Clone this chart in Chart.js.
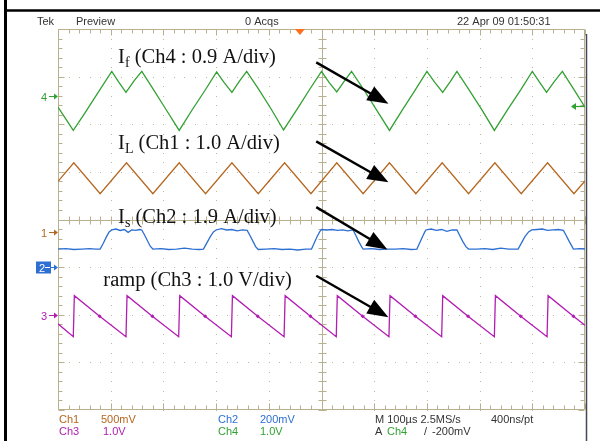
<!DOCTYPE html>
<html><head><meta charset="utf-8">
<script src="https://cdn.jsdelivr.net/npm/chart.js@4.4.0/dist/chart.umd.min.js"></script>
<style>html,body{margin:0;padding:0;background:#fff;}#wrap{width:600px;height:441px;}</style>
</head><body><div id="wrap"><canvas id="c" width="600" height="441"></canvas></div>
<script>
// ---- Data (time in microseconds, amplitude in screen divisions; centre = 0) ----
const ifTimeUs = [0,10,29,50,75,102,115,129,145,159,180,205,230,255,280,301,315,330,344,358,380,405,428,455,478,500,515,529,543,557,580,605,629,655,678,700,715,730,744,757,780,805,828,855,878,900,914,927,942,957,980,1000];
const ifDiv    = [2.36,2.19,1.87,2.22,2.65,3.11,2.89,2.67,2.92,3.11,2.75,2.31,1.87,2.31,2.73,3.10,2.88,2.67,2.90,3.11,2.75,2.31,1.88,2.34,2.74,3.11,2.87,2.68,2.90,3.11,2.73,2.29,1.87,2.33,2.72,3.11,2.88,2.67,2.89,3.11,2.72,2.29,1.87,2.34,2.72,3.11,2.88,2.67,2.90,3.11,2.71,2.36];

const ilTimeUs = [0,30,80,130,180,230,280,330,380,430,480,529,579,629,679,729,779,829,879,929,979,1000];
const ilDiv    = [0.80,1.19,0.54,1.19,0.54,1.19,0.54,1.19,0.54,1.19,0.54,1.19,0.54,1.19,0.54,1.19,0.54,1.19,0.54,1.19,0.54,0.81];

const isTimeUs = [0,15,30,45,60,72,80,86,92,97,102,110,118,126,133,140,148,155,159,164,170,175,180,
  195,210,225,240,255,268,276,282,289,295,300,310,320,330,340,350,359,364,370,375,380,
  395,410,425,440,455,470,481,486,492,497,500,510,520,530,540,550,560,565,571,576,579,
  595,610,625,640,655,670,681,686,692,696,698,708,718,728,738,748,757,762,768,774,779,
  795,810,825,840,855,866,873,879,886,893,899,909,919,929,939,949,959,964,970,975,978,990,1000];
const isDiv = [-0.62,-0.61,-0.63,-0.62,-0.61,-0.62,-0.62,-0.50,-0.36,-0.26,-0.22,-0.20,-0.23,-0.21,-0.27,-0.22,-0.23,-0.21,-0.22,-0.32,-0.45,-0.56,-0.62,
  -0.61,-0.63,-0.62,-0.60,-0.62,-0.63,-0.62,-0.50,-0.36,-0.26,-0.22,-0.19,-0.22,-0.21,-0.24,-0.22,-0.23,-0.33,-0.46,-0.57,-0.63,
  -0.62,-0.61,-0.63,-0.62,-0.64,-0.62,-0.62,-0.50,-0.35,-0.25,-0.21,-0.22,-0.21,-0.23,-0.22,-0.24,-0.22,-0.33,-0.47,-0.57,-0.62,
  -0.61,-0.63,-0.62,-0.62,-0.61,-0.63,-0.62,-0.50,-0.35,-0.26,-0.22,-0.20,-0.23,-0.21,-0.25,-0.22,-0.22,-0.33,-0.46,-0.57,-0.62,
  -0.62,-0.61,-0.63,-0.60,-0.62,-0.62,-0.62,-0.50,-0.36,-0.26,-0.22,-0.21,-0.20,-0.23,-0.22,-0.21,-0.23,-0.33,-0.46,-0.56,-0.62,-0.61,-0.62];

const rampTimeUs = [0,29,31,79,129,131,179,229,231,279,329,331,379,429,431,479,528,530,578,628,630,678,728,730,778,828,830,878,928,930,978,1000];
const rampDiv    = [-2.19,-2.46,-1.60,-2.03,-2.46,-1.60,-2.03,-2.46,-1.60,-2.03,-2.46,-1.60,-2.03,-2.46,-1.60,-2.03,-2.46,-1.60,-2.03,-2.46,-1.60,-2.03,-2.46,-1.60,-2.03,-2.46,-1.60,-2.03,-2.46,-1.60,-2.03,-2.22];

const markerLabels = ['4','1','2','3'];
const markerLevels = [2.59,-0.27,-1.0,-2.0];
const triggerLevelDiv = 2.39;
const triggerTimeUs = 459;

const channelNames  = ['Ch1','Ch2','Ch3','Ch4'];
const channelScales = ['500mV','200mV','1.0V','1.0V'];

const annoText  = [['I','f',' (Ch4 : 0.9 A/div)'],['I','L',' (Ch1 : 1.0 A/div)'],['I','s',' (Ch2 : 1.9 A/div)'],['ramp (Ch3 : 1.0 V/div)','','']];
const annoX     = [114,114,114,86];
const annoY     = [3.28,1.47,-0.07,-1.39];
const arrowFrom = [[490,3.30],[490,1.64],[490,0.26],[490,-1.18]];
const arrowTo   = [[627,2.43],[627,0.78],[625,-0.63],[627,-2.05]];

const pts = (xs, ys) => xs.map((x,i)=>({x, y: ys[i]}));

const GRID = '#b9b08e';
const DOT  = '#bfb79a';
const C1 = '#b5661f', C2 = '#2d6fd2', C3 = '#b21db2', C4 = '#33a033';

const P = v => Math.round(v) + 0.5;

const gridPlugin = {
  id: 'scopeGrid',
  beforeDatasetsDraw(chart) {
    const {ctx, chartArea: a, scales: {x, y}} = chart;
    ctx.save();
    ctx.strokeStyle = GRID; ctx.lineWidth = 1;
    const L = P(a.left), R = P(a.right)-1, T = P(a.top), B = P(a.bottom)-1;
    ctx.beginPath(); ctx.rect(L, T, R-L, B-T); ctx.stroke();
    ctx.fillStyle = DOT;
    for (let k = 1; k < 10; k++) {
      if (k === 5) continue;
      const X = Math.round(x.getPixelForValue(k*100));
      for (let j = 0; j <= 40; j++) { const Y = Math.round(y.getPixelForValue(-4 + j*0.2)); ctx.fillRect(X, Y, 1, 1); }
    }
    for (let k = -3; k <= 3; k++) {
      if (k === 0) continue;
      const Y = Math.round(y.getPixelForValue(k));
      for (let j = 0; j <= 50; j++) { const X = Math.round(x.getPixelForValue(j*20)); ctx.fillRect(X, Y, 1, 1); }
    }
    ctx.beginPath();
    for (let j = 0; j <= 50; j++) {
      const X = P(x.getPixelForValue(j*20));
      const len = (j % 5 === 0) ? 6 : 4;
      ctx.moveTo(X, T); ctx.lineTo(X, T+len);
      ctx.moveTo(X, B); ctx.lineTo(X, B-len);
      const Y0 = P(y.getPixelForValue(0));
      ctx.moveTo(X, Y0-4); ctx.lineTo(X, Y0+4);
    }
    for (let j = 0; j <= 40; j++) {
      const Y = P(y.getPixelForValue(-4 + j*0.2));
      const len = (j % 5 === 0) ? 6 : 4;
      ctx.moveTo(L, Y); ctx.lineTo(L+len, Y);
      ctx.moveTo(R, Y); ctx.lineTo(R-len, Y);
      const X0 = P(x.getPixelForValue(500));
      ctx.moveTo(X0-4, Y); ctx.lineTo(X0+4, Y);
    }
    const X0 = P(x.getPixelForValue(500)), Y0 = P(y.getPixelForValue(0));
    ctx.moveTo(X0, T); ctx.lineTo(X0, B);
    ctx.moveTo(L, Y0); ctx.lineTo(R, Y0);
    ctx.stroke();
    ctx.restore();
  }
};

function arrow(ctx, x1, y1, x2, y2, hl, hw, lw) {
  const ang = Math.atan2(y2-y1, x2-x1);
  const bx = x2 - hl*Math.cos(ang), by = y2 - hl*Math.sin(ang);
  ctx.lineWidth = lw;
  ctx.beginPath(); ctx.moveTo(x1, y1); ctx.lineTo(bx + Math.cos(ang)*2, by + Math.sin(ang)*2); ctx.stroke();
  ctx.beginPath(); ctx.moveTo(x2, y2);
  ctx.lineTo(bx + hw*Math.sin(ang), by - hw*Math.cos(ang));
  ctx.lineTo(bx - hw*Math.sin(ang), by + hw*Math.cos(ang));
  ctx.closePath(); ctx.fill();
}

const textPlugin = {
  id: 'scopeText',
  afterDraw(chart) {
    const {ctx, chartArea: a, scales: {x, y}} = chart;
    ctx.save();
    ctx.strokeStyle = '#000';
    ctx.lineWidth = 2.5; ctx.beginPath(); ctx.moveTo(4, 10.5); ctx.lineTo(600, 10.5); ctx.stroke();
    ctx.lineWidth = 3; ctx.beginPath(); ctx.moveTo(5.5, 0); ctx.lineTo(5.5, 441); ctx.stroke();
    ctx.strokeStyle = '#44475a'; ctx.lineWidth = 1.5;
    ctx.beginPath(); ctx.moveTo(a.right + 1.5, 34); ctx.lineTo(a.right + 1.5, 441); ctx.stroke();

    ctx.font = '11px "Liberation Sans", Arial, sans-serif';
    ctx.fillStyle = '#333'; ctx.textBaseline = 'alphabetic'; ctx.textAlign = 'left';
    ctx.fillText('Tek', 37, 25);
    ctx.fillText('Preview', 76, 25);
    ctx.fillText('0 Acqs', 245, 25);
    ctx.fillText('22 Apr 09 01:50:31', 457, 25);

    const tx = x.getPixelForValue(triggerTimeUs);
    ctx.fillStyle = '#ff6e1f';
    ctx.beginPath(); ctx.moveTo(tx-5, a.top); ctx.lineTo(tx+5, a.top); ctx.lineTo(tx, a.top+6); ctx.closePath(); ctx.fill();

    const row1 = 423, row2 = 434.5;
    const put = (t, px, py, c) => { ctx.fillStyle = c; ctx.fillText(t, px, py); };
    put(channelNames[0], 59, row1, C1); put(channelScales[0], 101, row1, C1);
    put(channelNames[1], 218, row1, C2); put(channelScales[1], 260, row1, C2);
    put('M 100\u00b5s 2.5MS/s', 375, row1, '#333'); put('400ns/pt', 491, row1, '#333');
    put(channelNames[2], 59, row2, C3); put(channelScales[2], 103, row2, C3);
    put(channelNames[3], 218, row2, C4); put(channelScales[3], 260, row2, C4);
    put('A', 375, row2, '#333'); put('Ch4', 387, row2, C4);
    put('/', 424, row2, '#333'); put('-200mV', 432, row2, '#333');

    const mcol = [C4, C1, C2, C3];
    markerLabels.forEach((lab, i) => {
      const Y = Math.round(y.getPixelForValue(markerLevels[i])) + 0.5;
      ctx.fillStyle = mcol[i]; ctx.strokeStyle = mcol[i]; ctx.lineWidth = 1;
      ctx.font = '11px "Liberation Sans", Arial, sans-serif';
      if (lab === '2') {
        ctx.fillRect(36, Y-6, 15, 12);
        ctx.fillStyle = '#fff'; ctx.fillText(lab, 39, Y+4);
        ctx.strokeStyle = '#fff';
        ctx.beginPath(); ctx.moveTo(45, Y); ctx.lineTo(50, Y); ctx.stroke();
        ctx.strokeStyle = C2; ctx.fillStyle = C2;
        ctx.beginPath(); ctx.moveTo(51, Y); ctx.lineTo(57, Y); ctx.stroke();
        ctx.beginPath(); ctx.moveTo(58, Y); ctx.lineTo(54, Y-3); ctx.lineTo(54, Y+3); ctx.closePath(); ctx.fill();
      } else {
        ctx.fillText(lab, 41, Y+4);
        ctx.beginPath(); ctx.moveTo(49, Y); ctx.lineTo(56, Y); ctx.stroke();
        ctx.beginPath(); ctx.moveTo(58, Y); ctx.lineTo(54, Y-3); ctx.lineTo(54, Y+3); ctx.closePath(); ctx.fill();
      }
    });
    const TY = Math.round(y.getPixelForValue(triggerLevelDiv)) + 0.5;
    ctx.strokeStyle = C4; ctx.fillStyle = C4; ctx.lineWidth = 1.2;
    ctx.beginPath(); ctx.moveTo(a.right-1, TY); ctx.lineTo(a.right-10, TY); ctx.stroke();
    ctx.beginPath(); ctx.moveTo(a.right-14, TY); ctx.lineTo(a.right-9, TY-3.5); ctx.lineTo(a.right-9, TY+3.5); ctx.closePath(); ctx.fill();

    ctx.fillStyle = '#111';
    annoText.forEach((parts, i) => {
      let px = x.getPixelForValue(annoX[i]);
      const py = y.getPixelForValue(annoY[i]);
      ctx.font = '20.5px "Liberation Serif", "Times New Roman", serif';
      ctx.fillText(parts[0], px, py); px += ctx.measureText(parts[0]).width;
      if (parts[1]) {
        ctx.font = '14px "Liberation Serif", "Times New Roman", serif';
        ctx.fillText(parts[1], px, py + 4); px += ctx.measureText(parts[1]).width;
      }
      if (parts[2]) {
        ctx.font = '20.5px "Liberation Serif", "Times New Roman", serif';
        ctx.fillText(parts[2], px, py);
      }
    });
    ctx.strokeStyle = '#000'; ctx.fillStyle = '#000';
    arrowFrom.forEach((f, i) => {
      const t = arrowTo[i];
      arrow(ctx, x.getPixelForValue(f[0]), y.getPixelForValue(f[1]), x.getPixelForValue(t[0]), y.getPixelForValue(t[1]), 21, 8, 2.4);
    });
    ctx.restore();
  }
};

const lineDs = (label, data, color, extra) => Object.assign({
  label, data, borderColor: color, backgroundColor: color, borderWidth: 1.3,
  pointRadius: 0, tension: 0, fill: false
}, extra || {});

new Chart(document.getElementById('c'), {
  type: 'line',
  data: {
    datasets: [
      lineDs('If (Ch4)', pts(ifTimeUs, ifDiv), C4),
      lineDs('IL (Ch1)', pts(ilTimeUs, ilDiv), C1),
      lineDs('Is (Ch2)', pts(isTimeUs, isDiv), C2),
      lineDs('ramp (Ch3)', pts(rampTimeUs, rampDiv), C3, {
        pointRadius: c => (c.dataIndex > 0 && c.dataIndex % 3 === 0) ? 2 : 0,
        pointStyle: 'rectRot', pointBorderWidth: 0
      })
    ]
  },
  options: {
    responsive: false, animation: false, devicePixelRatio: 1,
    layout: { padding: { left: 58, top: 29, right: 15, bottom: 31 } },
    plugins: { legend: { display: false }, tooltip: { enabled: false }, title: { display: false } },
    scales: {
      x: { type: 'linear', min: 0, max: 1000, display: false },
      y: { type: 'linear', min: -4, max: 4, display: false }
    }
  },
  plugins: [gridPlugin, textPlugin]
});
</script></body></html>
